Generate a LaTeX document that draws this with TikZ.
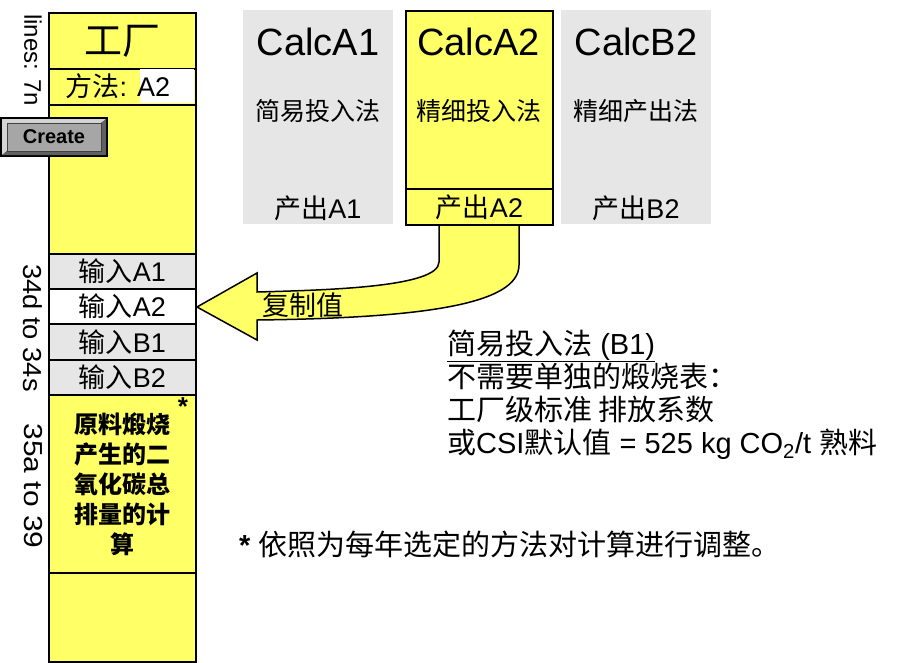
\documentclass[tikz,border=0pt]{standalone}
\usepackage{fontspec}
\usepackage{graphicx}
\setmainfont{Liberation Sans}
\newfontfamily\cjk{Noto Sans CJK SC}
\newcommand{\zh}[1]{{\cjk #1}}
\newcommand{\fsz}[1]{\fontsize{#1}{#1}\selectfont}
\definecolor{plantyellow}{RGB}{255,255,102}
\definecolor{calcgrey}{RGB}{230,230,230}
\definecolor{btnface}{RGB}{166,166,166}
\definecolor{btnlight}{RGB}{212,212,212}
\definecolor{btndark}{RGB}{96,96,96}
\tikzset{
  cell/.style={draw=black, line width=2pt, minimum width=147pt, inner sep=0pt, anchor=north west},
  topbox/.style={minimum width=150pt, minimum height=214pt, inner sep=0pt, anchor=north west},
  sidelabel/.style={rotate=-90, inner sep=0pt}
}
\begin{document}
\begin{tikzpicture}[x=1pt, y=-1pt]
% sizes are pixels of the 897x662 sheet, y running down
\useasboundingbox (0,0) rectangle (897,662);
% Plant column
\node[cell, fill=plantyellow, minimum height=56pt] (plant) at (48,12) {\zh{\fsz{38}工厂}};
\node[cell, fill=plantyellow, minimum height=36pt] (method) at (48,68) {};
\fill[white] (140,69) rectangle (194,103);
\node (methodtxt) at (118,86) {\fsz{27}\zh{方法}: A2};
\node[cell, fill=plantyellow, minimum height=149pt] (blank) at (48,104) {};
% Input rows
\node[cell, fill=calcgrey, minimum height=35pt] (inA1) at (48,253) {\fsz{27}\zh{输入}A1};
\node[cell, fill=white, minimum height=35pt] (inA2) at (48,288) {\fsz{27}\zh{输入}A2};
\node[cell, fill=calcgrey, minimum height=36pt] (inB1) at (48,323) {\fsz{27}\zh{输入}B1};
\node[cell, fill=calcgrey, minimum height=35pt] (inB2) at (48,359) {\fsz{27}\zh{输入}B2};
% Calcination block
\node[cell, fill=plantyellow, minimum height=178pt, align=center,
  font={\cjk\bfseries\fontsize{24}{30}\selectfont}] (calcination) at (48,394)
  {原料煅烧\\产生的二\\氧化碳总\\排量的计\\算};
\node (star) at (183,407) {\fsz{26}\bfseries *};
\node[cell, fill=plantyellow, minimum height=89pt] (bottom) at (48,572) {};
% Row labels
\node[sidelabel] (linesLbl) at (33,60) {\fsz{24}lines: 7n};
\node[sidelabel] (rows34) at (33,328) {\fsz{26}\scalebox{1.05}[1]{34d to 34s}};
\node[sidelabel] (rows35) at (33,486) {\fsz{26}\scalebox{1.15}[1]{35a to 39}};
% Create button
\fill[black] (0,117) rectangle (108,157);
\fill[btnlight] (2,119) -- (106,119) -- (101,123) -- (7,123) -- (7,151) -- (2,155) -- cycle;
\fill[btndark] (106,119) -- (106,155) -- (2,155) -- (7,151) -- (101,151) -- (101,123) -- cycle;
\draw[fill=btnface, draw=black!75, line width=0.8pt] (7,123) rectangle (101,151);
\node (create) at (54,137) {\fsz{20}\bfseries Create};
% Copy arrow
\draw[fill=plantyellow, line width=1.5pt, line join=miter]
  (439,224) -- (439,262) .. controls (439,287) and (330,290) .. (257,292)
  -- (257,273) -- (197,307) -- (257,340) -- (257,320)
  .. controls (420,318) and (519,305) .. (519,265) -- (519,224) -- cycle;
\node[anchor=west] (copyLbl) at (259,305) {\fsz{27}\zh{复制值}};
% Calculation options
\node[topbox, fill=calcgrey] (calcA1) at (243,10) {};
\node (calcA1name) at (318,42) {\fsz{38}CalcA1};
\node (calcA1meth) at (318,111) {\fsz{25}\zh{简易投入法}};
\node (outA1) at (318,208) {\fsz{27}\zh{产出}A1};
\node[topbox, fill=plantyellow, draw=black, line width=2pt, minimum width=147pt] (calcA2) at (405,10) {};
\node[cell, fill=plantyellow, minimum height=36pt] (outA2box) at (405,188) {};
\node (calcA2name) at (478.5,42) {\fsz{38}CalcA2};
\node (calcA2meth) at (478.5,111) {\fsz{25}\zh{精细投入法}};
\node (outA2) at (outA2box.center) {\fsz{27}\zh{产出}A2};
\node[topbox, fill=calcgrey] (calcB2) at (561,10) {};
\node (calcB2name) at (636,42) {\fsz{38}CalcB2};
\node (calcB2meth) at (636,111) {\fsz{25}\zh{精细产出法}};
\node (outB2) at (636,208) {\fsz{27}\zh{产出}B2};
% Note on the simple input method
\node[anchor=base west, inner sep=0pt] (noteHead) at (447,354) {\fsz{29}\underline{\zh{简易投入法} (B1)}};
\node[anchor=base west, inner sep=0pt] (noteTwo) at (447,387) {\fsz{29}\zh{不需要单独的煅烧表：}};
\node[anchor=base west, inner sep=0pt] (noteThree) at (447,420) {\fsz{29}\zh{工厂级标准 排放系数}};
\node[anchor=base west, inner sep=0pt] (noteFour) at (447,453) {\fsz{29}\zh{或}CSI\zh{默认值} = 525 kg CO\textsubscript{2}/t \zh{熟料}};
% Footnote
\node[anchor=base west, inner sep=0pt] (footnote) at (239,555) {\fsz{29}\textbf{*} \zh{依照为每年选定的方法对计算进行调整。}};
\end{tikzpicture}
\end{document}
